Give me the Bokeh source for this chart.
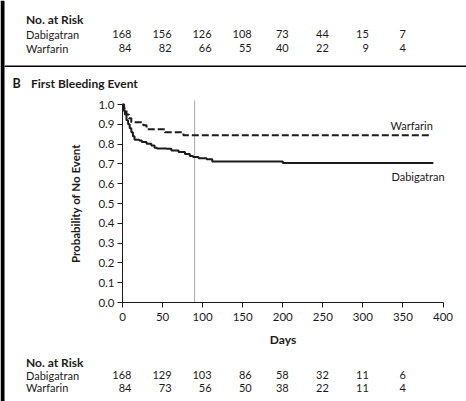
from bokeh.plotting import figure
from bokeh.models import Label, FixedTicker, NumeralTickFormatter, Range1d
from bokeh.embed import file_html
from bokeh.resources import INLINE

# ---------------- data ----------------
dab_days = [0, 1, 3, 5, 7, 9, 11, 13, 15, 21, 24, 30, 36, 40, 43, 55, 61, 70, 78, 84, 88, 95, 105, 112, 200, 388]
dab_vals = [1.0, 0.97, 0.95, 0.92, 0.90, 0.88, 0.86, 0.84, 0.822, 0.818, 0.81, 0.802, 0.793, 0.782, 0.778,
            0.776, 0.768, 0.76, 0.75, 0.74, 0.735, 0.728, 0.724, 0.712, 0.704, 0.704]
war_days = [0, 2, 5, 8, 11, 26, 30, 53, 76, 383]
war_vals = [1.0, 0.98, 0.95, 0.93, 0.91, 0.895, 0.875, 0.86, 0.845, 0.845]
landmark_days = [90]

x_ticks = [0, 50, 100, 150, 200, 250, 300, 350, 400]
y_ticks = [0.0, 0.1, 0.2, 0.3, 0.4, 0.5, 0.6, 0.7, 0.8, 0.9, 1.0]
risk_days = [0, 50, 100, 150, 200, 250, 300, 350]
top_dab = [168, 156, 126, 108, 73, 44, 15, 7]
top_war = [84, 82, 66, 55, 40, 22, 9, 4]
bot_dab = [168, 129, 103, 86, 58, 32, 11, 6]
bot_war = [84, 73, 56, 50, 38, 22, 11, 4]

# ---------------- geometry (page pixels) ----------------
PAGE_W, PAGE_H = 466, 401
AX_X = 122.0          # page x of day 0
PX_DAY = 320.5 / 400  # pixels per day
Y0_PAGE = 302.0       # page y of probability 0
PX_UNIT = 198.0       # pixels per probability unit
FONT = "Lato"
INK = "#1c1a1a"


def dx(px):
    return (px - AX_X) / PX_DAY


def dy(py):
    return (Y0_PAGE - py) / PX_UNIT


p = figure(width=PAGE_W, height=PAGE_H,
           x_range=Range1d(dx(0), dx(PAGE_W)), y_range=Range1d(dy(PAGE_H), dy(0)),
           output_backend="svg", toolbar_location=None,
           min_border_left=0, min_border_right=0, min_border_top=0, min_border_bottom=0)
p.xgrid.visible = False
p.ygrid.visible = False
p.outline_line_color = None

for ax in (p.xaxis[0], p.yaxis[0]):
    ax.fixed_location = 0
    ax.axis_line_color = INK
    ax.major_tick_line_color = INK
    ax.major_tick_out = 5
    ax.major_tick_in = 0
    ax.minor_tick_out = 0
    ax.minor_tick_in = 0
    ax.major_label_text_font = FONT
    ax.major_label_text_font_size = "11.5px"
    ax.major_label_text_color = INK
    ax.axis_label_text_font = FONT
    ax.axis_label_text_font_style = "bold"
    ax.axis_label_text_color = INK

p.xaxis.ticker = FixedTicker(ticks=x_ticks)
p.yaxis.ticker = FixedTicker(ticks=y_ticks)
p.yaxis.formatter = NumeralTickFormatter(format="0.0")
p.xaxis.bounds = (0, 400)
p.yaxis.bounds = (0, 1)
p.xaxis.axis_label = "Days"
p.yaxis.axis_label = "Probability of No Event"
p.xaxis.axis_label_text_font_size = "12px"
p.yaxis.axis_label_text_font_size = "11.5px"
p.xaxis.major_label_standoff = 5
p.yaxis.major_label_standoff = 3
p.xaxis.axis_label_standoff = 8
p.yaxis.axis_label_standoff = 13


def txt(x, y, s, size="11px", bold=False, align="left", x_offset=0):
    p.add_layout(Label(x=x, y=y, x_offset=x_offset, text=s, text_font=FONT, text_font_size=size,
                       text_font_style="bold" if bold else "normal", text_color=INK,
                       text_align=align, text_baseline="middle"))


def risk_table(y_head, y_d, y_w, dvals, wvals):
    txt(dx(25.5), dy(y_head), "No. at Risk", size="12px", bold=True)
    txt(dx(25.5), dy(y_d), "Dabigatran")
    txt(dx(25.5), dy(y_w), "Warfarin")
    for i, d in enumerate(risk_days):
        n = max(len(str(top_dab[i])), len(str(top_war[i])), len(str(bot_dab[i])), len(str(bot_war[i])))
        for yy, v in ((y_d, dvals[i]), (y_w, wvals[i])):
            txt(d, dy(yy), str(v), align="right", x_offset=3.0 * n)


# frame decorations: left black bar and panel separator
p.quad(left=[dx(0)], right=[dx(4)], bottom=[dy(PAGE_H)], top=[dy(0)], fill_color="black", line_color=None)
p.segment(x0=[dx(4)], y0=[dy(65.8)], x1=[dx(PAGE_W)], y1=[dy(65.8)], line_color="black", line_width=1.6)

# top risk table (panel A) and panel B title
risk_table(19, 33.8, 47.6, top_dab, top_war)
txt(dx(12), dy(82.5), "B", size="12.5px", bold=True)
txt(dx(30.5), dy(82.5), "First Bleeding Event", size="12px", bold=True)

# landmark line
p.segment(x0=landmark_days, y0=[0] * len(landmark_days), x1=landmark_days,
          y1=[dy(100)] * len(landmark_days), line_color="#a8a8a8", line_width=1)

# curves
p.step(war_days, war_vals, mode="after", line_color=INK, line_width=2, line_dash="7 3")
p.step(dab_days, dab_vals, mode="after", line_color=INK, line_width=2)

txt(dx(390), dy(125), "Warfarin")
txt(dx(391), dy(176), "Dabigatran")

# bottom risk table
risk_table(361.7, 374.6, 387.4, bot_dab, bot_war)

open("out.html", "w").write(file_html(p, INLINE))
